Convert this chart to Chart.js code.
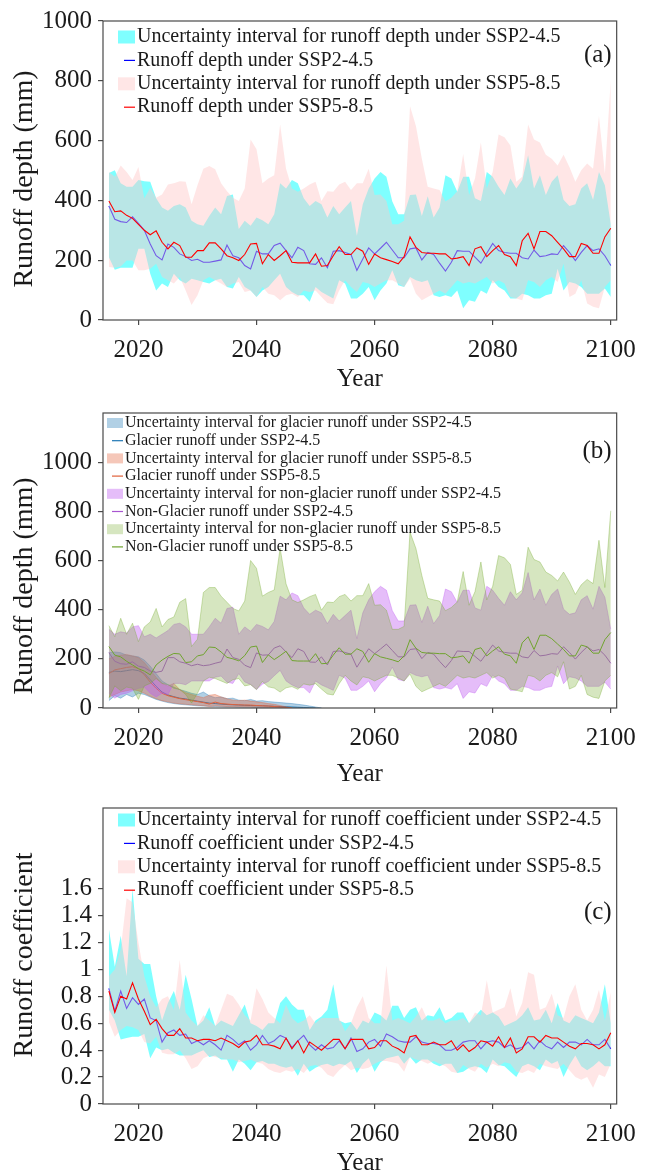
<!DOCTYPE html>
<html>
<head>
<meta charset="utf-8">
<script src="https://cdn.jsdelivr.net/npm/chart.js@4.4.1/dist/chart.umd.min.js"></script>
<style>
  html, body { margin: 0; padding: 0; background: #fff; }
  canvas { position: absolute; left: 0; }
</style>
</head>
<body>
<canvas id="panelA" width="646" height="392" style="top:0px"></canvas>
<canvas id="panelB" width="646" height="395" style="top:392px"></canvas>
<canvas id="panelC" width="646" height="389" style="top:787px"></canvas>
<script>
// ---- data, one value per year 2015..2100 ----
const years = [2015,2016,2017,2018,2019,2020,2021,2022,2023,2024,
  2025,2026,2027,2028,2029,2030,2031,2032,2033,2034,
  2035,2036,2037,2038,2039,2040,2041,2042,2043,2044,
  2045,2046,2047,2048,2049,2050,2051,2052,2053,2054,
  2055,2056,2057,2058,2059,2060,2061,2062,2063,2064,
  2065,2066,2067,2068,2069,2070,2071,2072,2073,2074,
  2075,2076,2077,2078,2079,2080,2081,2082,2083,2084,
  2085,2086,2087,2088,2089,2090,2091,2092,2093,2094,
  2095,2096,2097,2098,2099,2100];
const xTicks = [2020, 2040, 2060, 2080, 2100];

// (a) runoff depth, mm
const depth245 = [381,337,329,326,345,323,300,254,215,201,
  254,243,221,212,199,203,193,193,197,201,
  251,215,208,182,171,230,221,221,249,257,
  232,208,243,232,188,186,208,175,230,232,
  226,219,166,204,241,221,240,260,234,208,
  208,238,241,201,226,219,190,164,193,232,
  230,230,210,190,223,256,232,226,223,223,
  208,204,234,212,215,221,219,249,226,199,
  226,249,232,238,215,182];
const depth585 = [398,362,365,350,340,320,300,285,298,260,
  238,260,249,210,210,232,232,258,258,238,
  215,208,199,219,254,256,188,219,199,215,
  232,193,191,191,191,221,180,182,215,245,
  219,219,241,230,186,221,208,202,196,188,
  212,278,243,226,223,223,221,221,204,207,
  212,182,238,245,212,232,249,219,212,182,
  265,290,238,296,296,282,260,238,212,212,
  256,249,223,223,278,307];
const depthUp245 = [492,501,457,446,446,468,464,462,407,376,
  365,381,387,376,332,320,315,348,376,354,
  415,420,304,332,315,343,334,320,354,457,
  440,468,457,407,381,398,387,343,381,354,
  376,398,282,387,440,473,495,479,396,354,
  354,418,420,348,414,343,376,484,473,429,
  479,479,407,398,495,479,446,418,473,440,
  468,551,440,484,418,462,484,402,381,387,
  440,457,402,495,451,320];
const depthLo245 = [210,168,175,175,175,238,238,155,99,122,
  110,155,133,122,138,133,127,122,133,138,
  110,105,144,110,99,77,99,110,133,155,
  110,94,83,83,61,110,94,83,72,133,
  122,72,72,88,110,66,99,122,166,116,
  110,144,133,127,133,83,77,83,77,99,
  39,66,61,99,88,133,110,99,72,72,
  88,83,72,72,83,88,171,99,127,122,
  110,88,88,88,105,77];
const depthUp585 = [495,479,517,495,468,512,407,442,409,420,
  453,457,464,462,387,451,506,515,504,457,
  431,409,398,440,604,571,457,473,484,654,
  506,440,429,440,453,462,398,431,429,453,
  462,435,457,457,506,418,420,398,320,320,
  332,715,649,539,446,440,435,396,409,431,
  555,418,473,594,440,495,620,611,584,462,
  479,654,604,594,553,539,517,553,512,462,
  501,523,506,682,490,802];
const depthLo585 = [177,175,179,199,199,166,166,171,188,144,
  133,122,144,99,50,83,133,144,133,122,
  110,122,127,94,99,77,110,88,83,66,
  83,88,77,99,94,99,77,57,53,99,
  133,110,94,127,122,110,122,133,133,122,
  110,138,88,66,77,88,99,88,110,133,
  122,127,122,133,144,122,133,122,77,72,
  66,133,127,110,133,144,127,188,77,88,
  133,55,44,39,110,133];

// (b) glacier and non-glacier runoff, mm (glacier series stop where the glacier is gone)
const glacier245 = [145,150,148,152,156,152,140,115,88,65,
  53,46,40,37,32,28,24,20,18,16,
  14,13,12,11,10,9,9,8,7,6,
  5,4,3,2,1,0];
const glacierUp245 = [225,228,225,215,212,208,195,170,140,110,
  95,85,75,68,60,55,65,50,42,45,
  38,40,32,30,35,28,30,26,24,22,
  20,18,15,12,8,4,0];
const glacierLo245 = [30,50,40,55,45,60,55,45,35,28,
  22,18,15,13,11,9,8,7,6,5,
  4,4,3,3,3,2,2,2,2,1,
  1,1,0,0,0,0,0];
const glacier585 = [140,155,160,165,168,160,135,105,80,60,
  50,44,38,34,30,26,22,16,24,18,
  16,14,13,12,12,10,9,8,6,4,
  2,0];
const glacierUp585 = [200,210,215,218,212,205,185,155,125,100,
  90,100,75,62,55,48,42,52,55,45,
  38,32,30,32,28,25,22,18,15,10,
  5,0];
const glacierLo585 = [45,55,65,70,75,70,60,48,38,30,
  25,20,17,15,13,11,9,6,8,7,
  6,5,5,4,4,3,3,2,1,1,
  0,0];
const nonGlacier245 = [225,190,180,178,188,170,165,150,145,150,
  205,205,188,182,172,178,172,175,182,188,
  240,205,198,174,164,224,215,216,244,253,
  228,205,241,230,187,186,208,175,230,232,
  226,219,166,204,241,221,240,260,234,208,
  208,238,241,201,226,219,190,164,193,232,
  230,230,210,190,223,256,232,226,223,223,
  208,204,234,212,215,221,219,249,226,199,
  226,249,232,238,215,182];
const nonGlacierUp245 = [320,300,310,305,330,335,290,300,285,300,
  315,340,345,330,300,300,300,330,365,345,
  405,410,300,330,312,340,332,318,352,455,
  440,468,457,407,381,398,387,343,381,354,
  376,398,282,387,440,473,495,479,396,354,
  354,418,420,348,414,343,376,484,473,429,
  479,479,407,398,495,479,446,418,473,440,
  468,551,440,484,418,462,484,402,381,387,
  440,457,402,495,451,320];
const nonGlacierLo245 = [60,40,55,60,70,80,85,60,45,60,
  55,100,100,95,110,110,110,110,125,130,
  105,100,140,106,96,75,97,108,131,153,
  110,94,83,83,61,110,94,83,72,133,
  122,72,72,88,110,66,99,122,166,116,
  110,144,133,127,133,83,77,83,77,99,
  39,66,61,99,88,133,110,99,72,72,
  88,83,72,72,83,88,171,99,127,122,
  110,88,88,88,105,77];
const nonGlacier585 = [250,215,208,190,175,160,150,135,175,195,
  210,222,220,185,188,212,217,248,246,228,
  206,200,192,213,248,252,185,216,197,213,
  231,193,191,191,191,221,180,182,215,245,
  219,219,241,230,186,221,208,202,196,188,
  212,278,243,226,223,223,221,221,204,207,
  212,182,238,245,212,232,249,219,212,182,
  265,290,238,296,296,282,260,238,212,212,
  256,249,223,223,278,307];
const nonGlacierUp585 = [335,290,365,300,345,270,330,350,405,330,
  360,370,430,445,250,280,470,490,490,455,
  430,405,395,435,600,568,455,470,480,650,
  505,440,429,440,453,462,398,431,429,453,
  462,435,457,457,506,418,420,398,320,320,
  332,715,649,539,446,440,435,396,409,431,
  555,418,473,594,440,495,620,611,584,462,
  479,654,604,594,553,539,517,553,512,462,
  501,523,506,682,490,802];
const nonGlacierLo585 = [40,90,70,85,80,35,90,100,120,100,
  95,80,75,55,20,60,110,125,120,110,
  100,115,120,90,95,75,108,86,81,65,
  82,87,76,98,93,99,77,57,53,99,
  133,110,94,127,122,110,122,133,133,122,
  110,138,88,66,77,88,99,88,110,133,
  122,127,122,133,144,122,133,122,77,72,
  66,133,127,110,133,144,127,188,77,88,
  133,55,44,39,110,133];

// (c) runoff coefficient
const coef245 = [0.86,0.69,0.84,0.71,0.79,0.74,0.78,0.64,0.62,0.46,
  0.53,0.55,0.51,0.52,0.45,0.47,0.44,0.47,0.44,0.40,
  0.51,0.48,0.44,0.47,0.40,0.44,0.51,0.45,0.47,0.51,
  0.49,0.42,0.47,0.51,0.44,0.40,0.44,0.41,0.42,0.47,
  0.41,0.49,0.39,0.41,0.46,0.48,0.43,0.52,0.50,0.47,
  0.46,0.46,0.50,0.46,0.45,0.45,0.44,0.40,0.40,0.42,
  0.46,0.47,0.47,0.41,0.46,0.47,0.46,0.42,0.44,0.41,
  0.42,0.46,0.41,0.47,0.43,0.41,0.46,0.42,0.46,0.46,
  0.44,0.48,0.44,0.44,0.48,0.41];
const coef585 = [0.84,0.68,0.80,0.78,0.90,0.78,0.69,0.59,0.63,0.56,
  0.51,0.51,0.56,0.49,0.49,0.47,0.48,0.48,0.47,0.49,
  0.47,0.45,0.42,0.46,0.47,0.51,0.44,0.44,0.43,0.41,
  0.49,0.41,0.47,0.38,0.46,0.43,0.40,0.44,0.48,0.48,
  0.41,0.48,0.48,0.48,0.41,0.42,0.47,0.47,0.43,0.41,
  0.38,0.50,0.51,0.44,0.44,0.46,0.44,0.44,0.47,0.40,
  0.44,0.39,0.42,0.47,0.46,0.43,0.50,0.42,0.49,0.38,
  0.41,0.50,0.50,0.46,0.51,0.49,0.49,0.46,0.43,0.41,
  0.45,0.45,0.44,0.41,0.44,0.53];
const coefUp245 = [1.30,1.02,1.25,0.95,1.60,1.08,1.04,1.04,0.80,0.62,
  0.75,0.84,0.70,0.96,0.78,0.58,0.62,0.72,0.58,0.62,
  0.60,0.58,0.66,0.74,0.60,0.58,0.55,0.60,0.60,0.75,
  0.80,0.74,0.70,0.70,0.55,0.62,0.65,0.70,0.89,0.62,
  0.60,0.61,0.55,0.62,0.60,0.68,0.66,0.62,0.73,0.73,
  0.64,0.70,0.72,0.62,0.66,0.65,0.72,0.62,0.64,0.68,
  0.68,0.60,0.65,0.70,0.66,0.68,0.65,0.58,0.60,0.62,
  0.66,0.72,0.62,0.63,0.70,0.60,0.75,0.62,0.60,0.66,
  0.64,0.62,0.60,0.68,0.89,0.60];
const coefLo245 = [0.70,0.62,0.48,0.49,0.50,0.50,0.52,0.34,0.42,0.40,
  0.41,0.38,0.36,0.36,0.36,0.38,0.40,0.35,0.36,0.33,
  0.33,0.24,0.33,0.30,0.25,0.31,0.32,0.30,0.30,0.28,
  0.27,0.28,0.21,0.30,0.24,0.27,0.29,0.30,0.28,0.30,
  0.29,0.32,0.23,0.30,0.34,0.24,0.31,0.34,0.35,0.36,
  0.30,0.35,0.30,0.33,0.33,0.30,0.28,0.30,0.30,0.23,
  0.24,0.27,0.28,0.27,0.23,0.33,0.29,0.28,0.24,0.20,
  0.28,0.30,0.28,0.25,0.33,0.30,0.32,0.20,0.29,0.36,
  0.28,0.25,0.28,0.32,0.28,0.28];
const coefUp585 = [0.95,1.00,1.15,1.53,1.50,1.20,0.95,0.80,0.72,0.78,
  0.80,0.70,1.07,0.68,0.62,0.58,0.66,0.62,0.58,0.70,
  0.82,0.80,0.74,0.66,0.62,0.86,0.78,0.68,0.64,0.60,
  0.74,0.64,0.60,0.62,0.66,0.60,0.64,0.64,0.64,0.64,
  0.54,0.60,0.72,0.80,0.64,0.60,0.60,1.03,0.62,0.64,
  0.62,0.60,0.65,0.72,0.62,0.62,0.64,0.60,0.62,0.62,
  0.64,0.60,0.68,0.66,0.92,0.68,0.70,0.72,0.86,0.65,
  0.75,0.98,0.96,0.70,0.72,0.82,0.66,0.64,0.80,0.89,
  0.70,0.62,0.70,0.85,0.62,0.83];
const coefLo585 = [0.61,0.50,0.55,0.58,0.57,0.55,0.46,0.45,0.50,0.38,
  0.37,0.37,0.40,0.34,0.26,0.28,0.34,0.36,0.35,0.34,
  0.33,0.33,0.31,0.32,0.33,0.31,0.30,0.26,0.24,0.23,
  0.25,0.24,0.26,0.23,0.28,0.29,0.27,0.22,0.20,0.25,
  0.29,0.25,0.27,0.26,0.27,0.30,0.32,0.32,0.31,0.30,
  0.24,0.35,0.33,0.32,0.30,0.32,0.30,0.28,0.24,0.23,
  0.29,0.26,0.24,0.30,0.27,0.30,0.28,0.31,0.30,0.24,
  0.23,0.25,0.23,0.30,0.28,0.27,0.26,0.30,0.25,0.20,
  0.18,0.20,0.12,0.22,0.20,0.30];

const depthTicks = [0, 200, 400, 600, 800, 1000];
const coefTicks = [0, 0.2, 0.4, 0.6, 0.8, 1, 1.2, 1.4, 1.6];

// ---- helpers ----
const SERIF = '"Liberation Serif", "Times New Roman", serif';
Chart.defaults.font.family = SERIF;
Chart.defaults.color = '#1a1a1a';

const pts = arr => years.map((x, i) => ({ x, y: arr[i] ?? null }));

// lower edge + upper edge filled down to it
function band(lo, up, fillColor, edgeColor, label) {
  return [
    { label: '', data: pts(lo), borderColor: edgeColor, borderWidth: 0.8, fill: false },
    { label, data: pts(up), borderColor: edgeColor, borderWidth: 0.8,
      backgroundColor: fillColor, fill: '-1', legendKind: 'patch' }
  ];
}
function line(values, color, label, width) {
  return { label, data: pts(values), borderColor: color, borderWidth: width || 1.1,
           fill: false, legendKind: 'line' };
}
// first dataset drawn first (underneath), like the original plotting order
function ordered(sets) {
  sets.forEach((d, i) => { d.order = -i; });
  return sets;
}

// legend inside the axes, panel tag, y title and box spines
const insideLegend = {
  id: 'insideLegend',
  afterDraw(chart, args, o) {
    const { ctx, chartArea: ca } = chart;
    ctx.save();
    ctx.strokeStyle = '#4a4a4a';
    ctx.lineWidth = 1.2;
    ctx.strokeRect(ca.left, ca.top, ca.right - ca.left, ca.bottom - ca.top);

    ctx.font = o.size + 'px ' + SERIF;
    ctx.textBaseline = 'middle';
    let row = 0;
    chart.data.datasets.forEach(ds => {
      if (!ds.legendKind) return;
      const y = ca.top + o.y0 + row * o.dy;
      if (ds.legendKind === 'patch') {
        ctx.fillStyle = ds.backgroundColor;
        ctx.fillRect(o.px, y - o.ph / 2, o.pw, o.ph);
      } else {
        ctx.strokeStyle = ds.borderColor;
        ctx.lineWidth = 1.2;
        ctx.beginPath();
        ctx.moveTo(o.lx, y);
        ctx.lineTo(o.px + o.pw, y);
        ctx.stroke();
      }
      ctx.fillStyle = '#1a1a1a';
      ctx.textAlign = 'left';
      ctx.fillText(ds.label, o.tx, y);
      row++;
    });

    ctx.font = o.tagSize + 'px ' + SERIF;
    ctx.textAlign = 'right';
    ctx.fillText(o.tag, ca.right - 5, ca.top + o.tagY);

    // y axis title
    ctx.font = o.ySize + 'px ' + SERIF;
    ctx.textAlign = 'center';
    ctx.translate(o.yX, o.yY);
    ctx.rotate(-Math.PI / 2);
    ctx.fillText(o.yTitle, 0, 0);
    ctx.restore();
  }
};

function options(p) {
  return {
    responsive: false,
    animation: false,
    events: [],
    layout: { padding: { top: p.top, right: 20, left: 0, bottom: 0 } },
    elements: { point: { radius: 0 }, line: { tension: 0 } },
    scales: {
      x: {
        type: 'linear', min: 2014, max: 2101,
        afterBuildTicks: ax => { ax.ticks = xTicks.map(v => ({ value: v })); },
        afterFit: sc => { sc.height = p.xh; },
        ticks: { autoSkip: false, maxRotation: 0, padding: 10, color: '#1a1a1a',
                 font: { size: 25 }, callback: v => String(v) },
        grid: { drawOnChartArea: false, drawTicks: true, tickLength: 5, color: '#4a4a4a', lineWidth: 1.2 },
        border: { display: false },
        title: { display: true, text: 'Year', color: '#1a1a1a',
                 font: { size: 25, lineHeight: 1 }, padding: { top: 0, bottom: 0 } }
      },
      y: {
        min: 0, max: p.ymax,
        afterBuildTicks: ax => { ax.ticks = p.yTicks.map(v => ({ value: v })); },
        afterFit: sc => { sc.width = 103; },
        ticks: { padding: 6, color: '#1a1a1a', font: { size: 25 }, callback: p.fmt },
        grid: { drawOnChartArea: false, drawTicks: true, tickLength: 5, color: '#4a4a4a', lineWidth: 1.2 },
        border: { display: false }
      }
    },
    plugins: {
      legend: { display: false },
      tooltip: { enabled: false },
      insideLegend: p.legend
    }
  };
}

const CLEAR = 'rgba(0,0,0,0)';
const cyanFill = 'rgba(0,255,255,0.5)';
const pinkFill = 'rgba(255,200,200,0.45)';

// ---- (a) ----
new Chart(document.getElementById('panelA'), {
  type: 'line',
  data: { datasets: ordered([
    ...band(depthLo245, depthUp245, cyanFill, CLEAR, 'Uncertainty interval for runoff depth under SSP2-4.5'),
    line(depth245, '#0000ff', 'Runoff depth under SSP2-4.5'),
    ...band(depthLo585, depthUp585, pinkFill, CLEAR, 'Uncertainty interval for runoff depth under SSP5-8.5'),
    line(depth585, '#ff0000', 'Runoff depth under SSP5-8.5')
  ]) },
  options: options({ top: 17, xh: 72, ymax: 1000, yTicks: depthTicks, fmt: v => String(v),
    legend: { size: 20, y0: 16, dy: 23.4, px: 118, pw: 17, ph: 13, lx: 124, tx: 137,
              tag: '(a)', tagSize: 25, tagY: 34,
              yTitle: 'Runoff depth (mm)', ySize: 28, yX: 25, yY: 179 } }),
  plugins: [insideLegend]
});

// ---- (b) ----
new Chart(document.getElementById('panelB'), {
  type: 'line',
  data: { datasets: ordered([
    ...band(glacierLo245, glacierUp245, 'rgba(31,119,180,0.35)', 'rgba(31,119,180,0.45)',
            'Uncertainty interval for glacier runoff under SSP2-4.5'),
    line(glacier245, '#1f77b4', 'Glacier runoff under SSP2-4.5', 1),
    ...band(glacierLo585, glacierUp585, 'rgba(225,95,55,0.35)', 'rgba(225,95,55,0.45)',
            'Uncertainty interval for glacier runoff under SSP5-8.5'),
    line(glacier585, '#e0603a', 'Glacier runoff under SSP5-8.5', 1),
    ...band(nonGlacierLo245, nonGlacierUp245, 'rgba(190,90,240,0.4)', 'rgba(190,90,240,0.45)',
            'Uncertainty interval for non-glacier runoff under SSP2-4.5'),
    line(nonGlacier245, '#a855d0', 'Non-Glacier runoff under SSP2-4.5', 1),
    ...band(nonGlacierLo585, nonGlacierUp585, 'rgba(119,172,48,0.3)', 'rgba(119,172,48,0.45)',
            'Uncertainty interval for non-glacier runoff under SSP5-8.5'),
    line(nonGlacier585, '#6fa32e', 'Non-Glacier runoff under SSP5-8.5', 1)
  ]) },
  options: options({ top: 13, xh: 79, ymax: 1200, yTicks: depthTicks, fmt: v => String(v),
    legend: { size: 16, y0: 10, dy: 17.7, px: 107, pw: 16, ph: 10, lx: 112, tx: 125,
              tag: '(b)', tagSize: 25, tagY: 38,
              yTitle: 'Runoff depth (mm)', ySize: 28, yX: 25, yY: 194 } }),
  plugins: [insideLegend]
});

// ---- (c) ----
new Chart(document.getElementById('panelC'), {
  type: 'line',
  data: { datasets: ordered([
    ...band(coefLo245, coefUp245, cyanFill, CLEAR, 'Uncertainty interval for runoff coefficient under SSP2-4.5'),
    line(coef245, '#0000ff', 'Runoff coefficient under SSP2-4.5'),
    ...band(coefLo585, coefUp585, pinkFill, CLEAR, 'Uncertainty interval for runoff coefficient under SSP5-8.5'),
    line(coef585, '#ff0000', 'Runoff coefficient under SSP5-8.5')
  ]) },
  options: options({ top: 14, xh: 72, ymax: 2.2, yTicks: coefTicks,
    fmt: v => String(Math.round(v * 10) / 10),
    legend: { size: 20, y0: 12, dy: 23.4, px: 118, pw: 17, ph: 13, lx: 124, tx: 137,
              tag: '(c)', tagSize: 25, tagY: 104,
              yTitle: 'Runoff coefficient', ySize: 28, yX: 25, yY: 168 } }),
  plugins: [insideLegend]
});
</script>
</body>
</html>
